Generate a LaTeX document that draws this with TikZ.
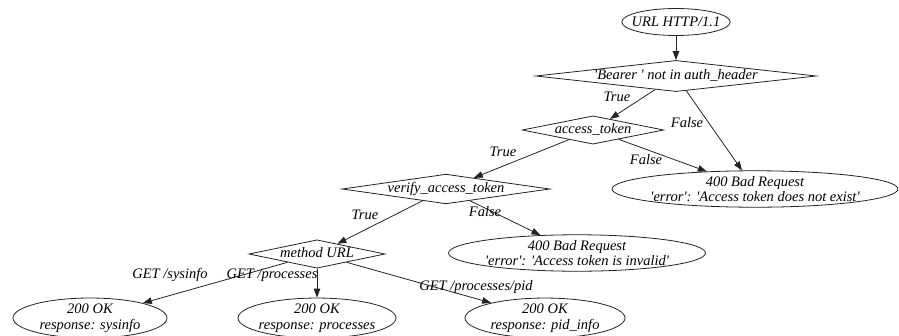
\documentclass[tikz,border=0pt]{standalone}
\usepackage{fontspec}
\setmainfont{Liberation Serif}[Ligatures=TeXOff]
\usetikzlibrary{shapes.geometric,arrows.meta}
\definecolor{ink}{RGB}{35,35,35}

\begin{document}
\begin{tikzpicture}[x=1pt,y=-1pt,
  every node/.style={font=\itshape\fontsize{14.5}{15.5}\selectfont},
  decision/.style={diamond,draw=ink,line width=0.8pt,inner sep=0pt,text height=10pt,text depth=3pt},
  answer/.style={ellipse,draw=ink,line width=0.8pt,align=center,inner xsep=-6pt,inner ysep=0pt},
  arrow/.style={-{Triangle[length=9pt,width=6.5pt]},draw=ink,line width=0.8pt},
  lbl/.style={inner sep=0pt}
]
\useasboundingbox (0,0) rectangle (899,335);
% checks
\node[answer,minimum width=108pt,minimum height=27pt] (url) at (676,22) {URL HTTP/1.1};
\node[decision,aspect=9] (bearer) at (676,76) {'Bearer ' not in auth\_header};
\node[decision,aspect=5] (token) at (593,130) {access\_token};
\node[decision,aspect=7] (verify) at (446,189) {verify\_access\_token};
\node[decision,aspect=4.8] (method) at (317,254) {method URL};
% answers
\node[answer,minimum width=286pt] (nofound) at (755,189) {400 Bad Request\\'error': 'Access token does not exist'};
\node[answer,minimum width=257pt] (invalid) at (577,253) {400 Bad Request\\'error': 'Access token is invalid'};
\node[answer,minimum width=154pt] (sysinfo) at (90,318) {200 OK\\response: sysinfo};
\node[answer,minimum width=158pt] (procs) at (317,318) {200 OK\\response: processes};
\node[answer,minimum width=160pt] (pidinfo) at (545,318) {200 OK\\response: pid\_info};

\draw[arrow] (url) -- (bearer);
\draw[arrow] (bearer) -- (token);
\draw[arrow] (bearer) -- (nofound);
\draw[arrow] (token) -- (nofound);
\draw[arrow] (token) -- (verify);
\draw[arrow] (verify) -- (method);
\draw[arrow] (verify) -- (invalid);
\draw[arrow] (method) -- (sysinfo);
\draw[arrow] (method) -- (procs);
\draw[arrow] (method) -- (pidinfo);

% edge labels
\node[lbl] (t1) at (617,97) {True};
\node[lbl] (f1) at (687,123) {False};
\node[lbl] (f2) at (646,160) {False};
\node[lbl] (t2) at (503,152) {True};
\node[lbl] (t3) at (365,215) {True};
\node[lbl] (f3) at (485,212) {False};
\node[lbl] (g1) at (170,275) {GET /sysinfo};
\node[lbl] (g2) at (272,275) {GET /processes};
\node[lbl] (g3) at (476,287) {GET /processes/pid};
\end{tikzpicture}
\end{document}
